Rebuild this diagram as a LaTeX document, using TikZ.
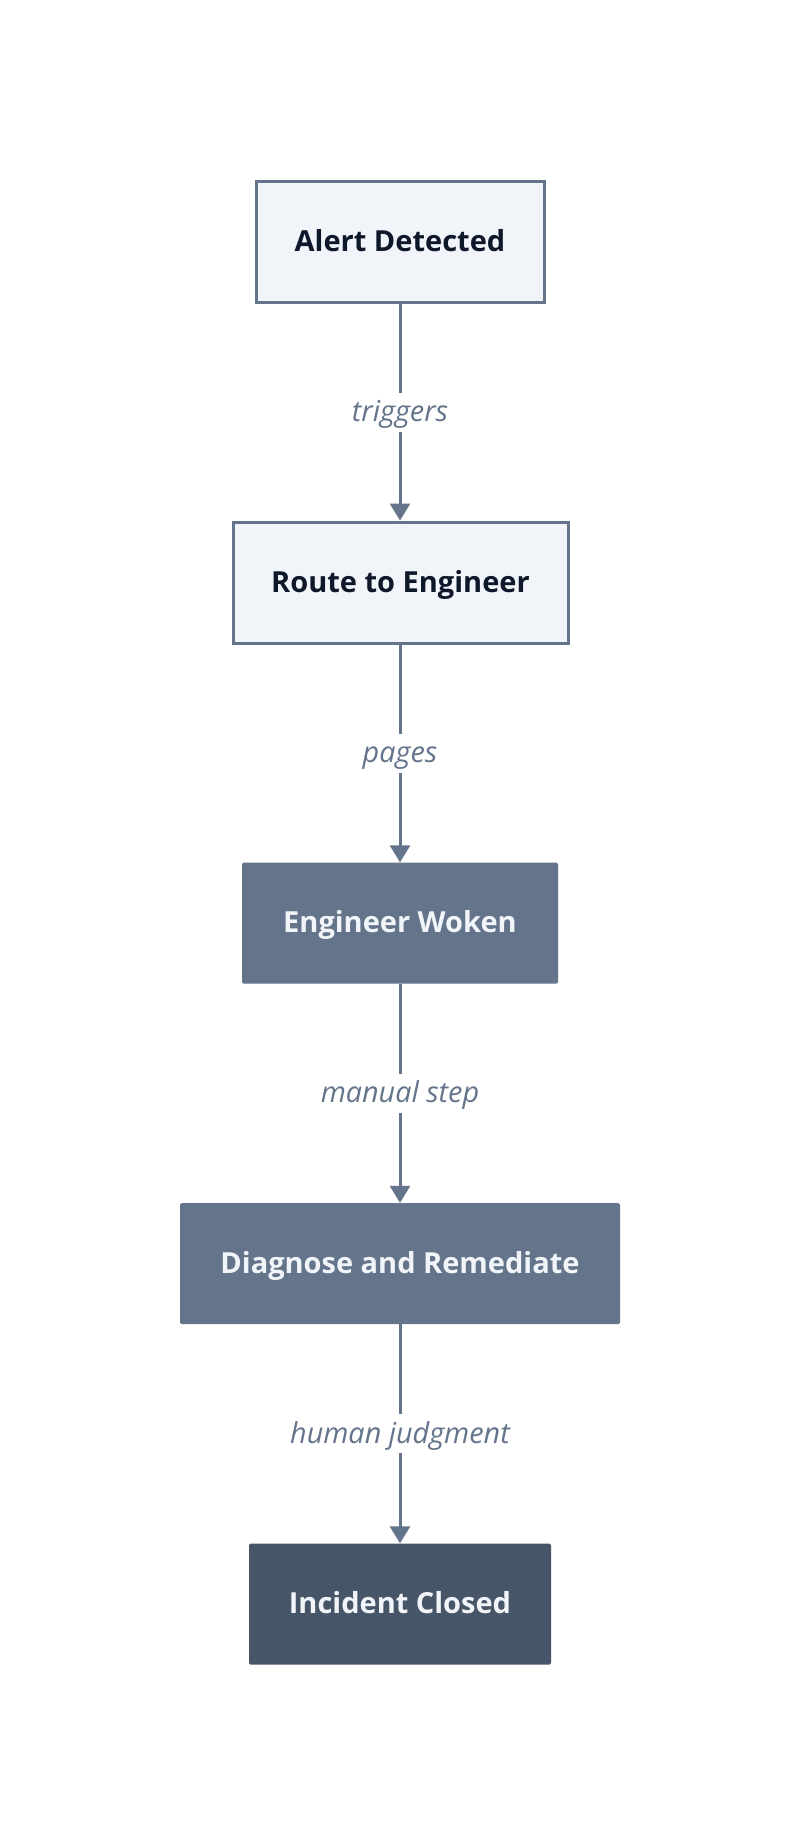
\documentclass[tikz,border=0pt]{standalone}
\usepackage{fontspec}
\setmainfont{Open Sans}
\usetikzlibrary{arrows.meta}
\definecolor{slateborder}{HTML}{64748B}
\definecolor{slatelight}{HTML}{F1F5F9}
\definecolor{slatemid}{HTML}{64748B}
\definecolor{slatedark}{HTML}{475569}
\definecolor{inkdark}{HTML}{0F172A}
\definecolor{lbltext}{HTML}{64748B}
\tikzset{
  box/.style={rectangle, minimum height=121pt, inner sep=0pt, font=\fontsize{29}{35}\selectfont\bfseries, align=center, text height=22.5pt, text depth=3.5pt},
  lightbox/.style={box, draw=slateborder, line width=3pt, fill=slatelight, text=inkdark},
  midbox/.style={box, fill=slatemid, text=slatelight, rounded corners=1.5pt},
  darkbox/.style={box, fill=slatedark, text=slatelight, rounded corners=1.5pt},
  flow/.style={draw=slateborder, line width=3pt, -{Triangle[width=20pt,length=17pt]}},
  lbl/.style={fill=white, text=lbltext, font=\fontsize{28.8}{33}\selectfont\itshape, text height=23.5pt, text depth=4.5pt, inner xsep=3pt, inner ysep=5.5pt},
}
\begin{document}
\begin{tikzpicture}[x=1pt,y=1pt]
\useasboundingbox[fill=white] (0,0) rectangle (800,-1847);
\node[lightbox, minimum width=288pt] (a) at (400,-242) {Alert Detected};
\node[lightbox, minimum width=335pt] (b) at (400.5,-582.5) {Route to Engineer};
\node[midbox, minimum width=316pt] (c) at (400,-923) {Engineer Woken};
\node[midbox, minimum width=440pt] (d) at (400,-1263.5) {Diagnose and Remediate};
\node[darkbox, minimum width=302pt] (e) at (400,-1604) {Incident Closed};
\draw[flow] (a.south) -- node[lbl]{triggers} (a.south |- b.north);
\draw[flow] (b.south -| a.south) -- node[lbl]{pages} (c.north);
\draw[flow] (c.south) -- node[lbl]{manual step} (d.north);
\draw[flow] (d.south) -- node[lbl]{human judgment} (e.north);
\end{tikzpicture}
\end{document}
